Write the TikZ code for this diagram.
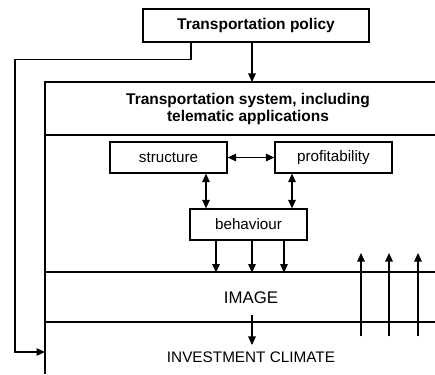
\documentclass[tikz,border=0pt]{standalone}
\usepackage{fontspec}
\setmainfont{Liberation Sans}
\usetikzlibrary{positioning,arrows.meta}

\begin{document}
\begin{tikzpicture}[x=1pt,y=-1pt,line width=1.2pt,>={Triangle[length=8.5pt,width=7.5pt]}]
        %
        % `box' is used for the small framed boxes,
        % `label' for the plain texts inside the system frame.
        \tikzstyle{box} = [draw,fill=white,minimum width=117pt,minimum height=31pt,inner sep=0pt,font=\fontsize{15.2}{18}\selectfont]
        \tikzstyle{label} = [inner sep=2pt,font=\fontsize{15.3}{17}\selectfont]
        \useasboundingbox (0,0) rectangle (435,374);
        %
        % Policy on top
        \node[box,minimum width=226pt,minimum height=33pt,font=\fontsize{15.5}{18}\selectfont\bfseries] (policy) at (256,25.5) {Transportation policy};
        %
        % System frame, open to the right and below
        \coordinate (sysTop) at (252,82);
        \coordinate (inv) at (45,352);
        \draw (435,82) -- (45,82) -- (45,374);
        \node[label,align=center,font=\fontsize{15.5}{16.5}\selectfont\bfseries] (system) at (248,109) {Transportation system, including\\telematic applications};
        \draw (45,135) -- (435,135);
        \draw (45,272) -- (435,272);
        \draw (45,322) -- (435,322);
        %
        % Inner boxes
        \node[box] (structure) at (168.5,157.5) {structure};
        \node[box] (profit) at (333.5,157.5) {profitability};
        \node[box] (behaviour) at (248.5,224.5) {behaviour};
        \draw[<->] (structure) -- (profit);
        \draw[<->] ([xshift=37.5pt]structure.south) -- ([xshift=-42.5pt]behaviour.north);
        \draw[<->] ([xshift=-41.5pt]profit.south) -- ([xshift=43.5pt]behaviour.north);
        \foreach \dx in {-32.5,3.5,35.5}
            \draw[->] ([xshift=\dx pt]behaviour.south) -- ++(0,32);
        %
        % Image and investment climate
        \node[label,font=\fontsize{16.8}{18}\selectfont] (image) at (251,298) {IMAGE};
        \node[label] (climate) at (251,357) {INVESTMENT CLIMATE};
        \draw[->] ([xshift=1pt,yshift=-8pt]image.south) -- ([xshift=1pt,yshift=4pt]climate.north);
        \foreach \x in {361,389,418}
            \draw[->] (\x,336) -- (\x,253);
        %
        % Policy links
        \draw[->] ([xshift=-4pt]policy.south) -- (sysTop);
        \draw[->] ([xshift=-65pt]policy.south) -- ++(0,17) -| (15,352) -- (inv);
        %
\end{tikzpicture}
\end{document}
